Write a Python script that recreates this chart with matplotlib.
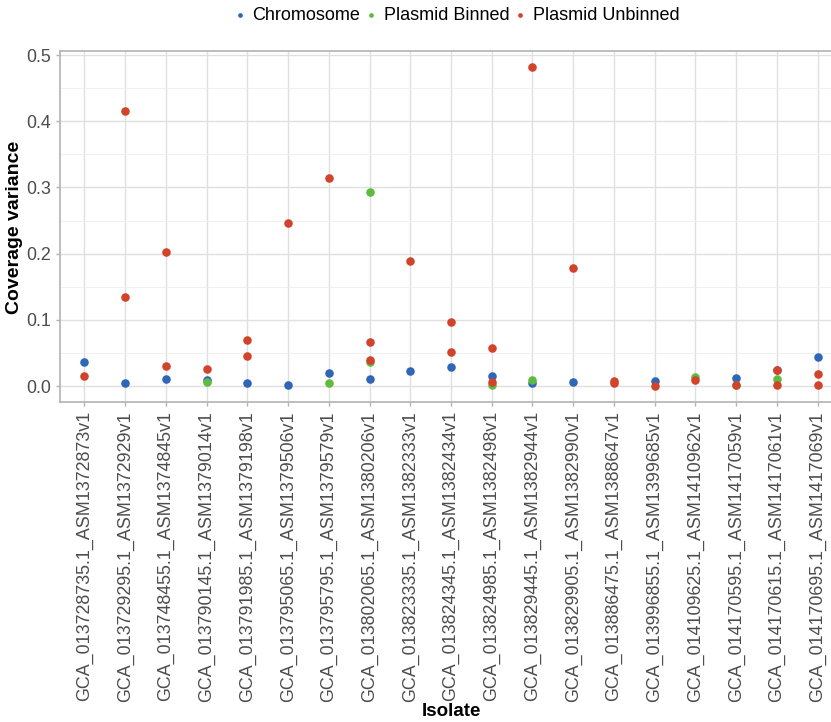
import matplotlib
matplotlib.use("Agg")
import matplotlib.pyplot as plt
from matplotlib.ticker import MultipleLocator

plt.rcParams['font.family'] = ['Liberation Sans', 'DejaVu Sans']

isolates = [
    "GCA_013728735.1_ASM1372873v1", "GCA_013729295.1_ASM1372929v1",
    "GCA_013748455.1_ASM1374845v1", "GCA_013790145.1_ASM1379014v1",
    "GCA_013791985.1_ASM1379198v1", "GCA_013795065.1_ASM1379506v1",
    "GCA_013795795.1_ASM1379579v1", "GCA_013802065.1_ASM1380206v1",
    "GCA_013823335.1_ASM1382333v1", "GCA_013824345.1_ASM1382434v1",
    "GCA_013824985.1_ASM1382498v1", "GCA_013829445.1_ASM1382944v1",
    "GCA_013829905.1_ASM1382990v1", "GCA_013886475.1_ASM1388647v1",
    "GCA_013996855.1_ASM1399685v1", "GCA_014109625.1_ASM1410962v1",
    "GCA_014170595.1_ASM1417059v1", "GCA_014170615.1_ASM1417061v1",
    "GCA_014170695.1_ASM1417069v1",
]

chrom_idx = [0, 1, 2, 3, 4, 5, 6, 7, 8, 9, 10, 11, 12, 14, 16, 17, 18]
chrom_val = [0.036, 0.005, 0.010, 0.009, 0.004, 0.002, 0.020, 0.011, 0.023, 0.029,
             0.015, 0.005, 0.006, 0.008, 0.012, 0.024, 0.044]

binned_idx = [3, 6, 7, 7, 10, 11, 15, 16, 17]
binned_val = [0.006, 0.004, 0.293, 0.036, 0.001, 0.009, 0.013, 0.002, 0.010]

unbinned_idx = [0, 1, 1, 2, 2, 3, 4, 4, 5, 6, 7, 7, 8, 9, 9, 10, 10, 11, 12,
                13, 13, 14, 15, 16, 17, 17, 18, 18]
unbinned_val = [0.015, 0.415, 0.134, 0.202, 0.030, 0.025, 0.070, 0.046, 0.246, 0.315,
                0.067, 0.040, 0.189, 0.097, 0.052, 0.058, 0.006, 0.482, 0.178,
                0.008, 0.005, 0.000, 0.009, 0.001, 0.024, 0.001, 0.018, 0.002]

series = [
    ("Chromosome", chrom_idx, chrom_val, "#2f66b8"),
    ("Plasmid Binned", binned_idx, binned_val, "#5dbb3f"),
    ("Plasmid Unbinned", unbinned_idx, unbinned_val, "#d1432a"),
]

W, H = 831, 722
fig = plt.figure(figsize=(W / 100, H / 100), dpi=100)
ax = fig.add_axes([60 / W, 1 - 402 / H, (842 - 60) / W, (402 - 51) / H])

handles = []
for name, xi, yv, col in series:
    h = ax.scatter(xi, yv, s=38, color=col, label=name, zorder=3, linewidths=0)
    handles.append(h)

ax.set_xlim(-0.6, len(isolates) - 1 + 0.6)
ax.set_ylim(-0.0241, 0.5061)
ax.set_xticks(range(len(isolates)))
ax.set_xticklabels(isolates, rotation=90, fontsize=12.9, color="#4d4d4d")
ax.yaxis.set_minor_locator(MultipleLocator(0.05))
ax.set_yticks([0, 0.1, 0.2, 0.3, 0.4, 0.5])
ax.set_yticklabels(["0.0", "0.1", "0.2", "0.3", "0.4", "0.5"], fontsize=12.9, color="#4d4d4d")
ax.tick_params(axis='both', which='major', length=3, color="#b3b3b3", width=1)
ax.tick_params(axis='y', which='minor', length=0)

ax.grid(True, which='major', color="#e0e0e0", linewidth=1.0, zorder=0)
ax.grid(True, which='minor', axis='y', color="#eeeeee", linewidth=0.6, zorder=0)
ax.set_axisbelow(True)
for sp in ax.spines.values():
    sp.set_color("#b3b3b3")
    sp.set_linewidth(1.2)

fig.text(451 / W, 1 - 711 / H, "Isolate", fontsize=13.5, fontweight='bold',
         ha='center', va='center')
fig.text(15 / W, 1 - 227 / H, "Coverage variance", fontsize=14, fontweight='bold',
         ha='center', va='center', rotation=90)

fig.legend(handles=handles, loc='center', bbox_to_anchor=(457 / W, 1 - 15 / H), ncol=3,
           frameon=False, fontsize=13, markerscale=0.55, handlelength=0.6,
           handletextpad=0.4, columnspacing=0.3, borderaxespad=0)

fig.savefig("out.png", dpi=100)
